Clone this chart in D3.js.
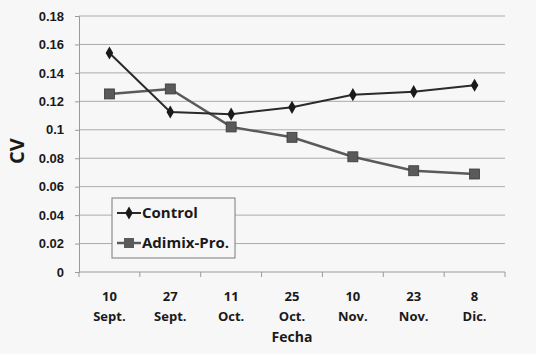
<!DOCTYPE html>
<html>
<head>
<meta charset="utf-8">
<script src="https://cdn.jsdelivr.net/npm/d3@7"></script>
<style>
  body { margin: 0; background: #f7f7f7; }
  svg { display: block; font-family: "Open Sans", "DejaVu Sans", sans-serif; }
</style>
</head>
<body>
<div id="chart"></div>
<script>
// Fechas de muestreo (dos líneas por etiqueta)
const dayLabels = ["10", "27", "11", "25", "10", "23", "8"];
const monthLabels = ["Sept.", "Sept.", "Oct.", "Oct.", "Nov.", "Nov.", "Dic."];
const controlValues = [0.154, 0.1125, 0.111, 0.1158, 0.1247, 0.1268, 0.1313];
const adimixValues = [0.1252, 0.1287, 0.102, 0.0947, 0.081, 0.0712, 0.0689];
const yTicks = [0, 0.02, 0.04, 0.06, 0.08, 0.1, 0.12, 0.14, 0.16, 0.18];

const width = 536, height = 354;
const margin = { top: 16, right: 31, bottom: 82, left: 79 };

const svg = d3.select("#chart").append("svg")
    .attr("width", width)
    .attr("height", height);

svg.append("rect")
    .attr("width", width)
    .attr("height", height)
    .attr("fill", "#f7f7f7");

const x = d3.scaleBand()
    .domain(d3.range(dayLabels.length))
    .range([margin.left, width - margin.right]);

const y = d3.scaleLinear()
    .domain([0, 0.18])
    .range([height - margin.bottom, margin.top]);

// Grid lines
svg.append("g")
    .selectAll("line")
    .data(yTicks.slice(1))
    .join("line")
    .attr("x1", margin.left)
    .attr("x2", width - margin.right)
    .attr("y1", d => y(d))
    .attr("y2", d => y(d))
    .attr("stroke", "#ababab")
    .attr("stroke-width", 1);

// Y axis
const yAxis = svg.append("g")
    .attr("transform", `translate(${margin.left},0)`)
    .call(d3.axisLeft(y).tickValues(yTicks).tickSize(4).tickFormat(d => d === 0 ? "0" : String(+d.toFixed(2))));
yAxis.select(".domain").attr("stroke", "#9a9a9a");
yAxis.selectAll(".tick line").attr("stroke", "#9a9a9a");
yAxis.selectAll(".tick text")
    .attr("x", -15)
    .attr("fill", "#1a1a1a")
    .style("font-size", "13px")
    .style("font-weight", "bold");

// X axis
const xAxis = svg.append("g")
    .attr("transform", `translate(0,${height - margin.bottom})`);
xAxis.append("line")
    .attr("x1", margin.left)
    .attr("x2", width - margin.right)
    .attr("stroke", "#9a9a9a");
xAxis.selectAll(".xtick")
    .data(d3.range(dayLabels.length + 1))
    .join("line")
    .attr("x1", i => margin.left + i * x.bandwidth())
    .attr("x2", i => margin.left + i * x.bandwidth())
    .attr("y1", 0)
    .attr("y2", 5)
    .attr("stroke", "#9a9a9a");

const xLabels = xAxis.selectAll(".xlabel")
    .data(d3.range(dayLabels.length))
    .join("text")
    .attr("text-anchor", "middle")
    .attr("fill", "#1a1a1a")
    .style("font-size", "13px")
    .style("font-weight", "bold");
xLabels.append("tspan")
    .attr("x", i => x(i) + x.bandwidth() / 2)
    .attr("y", 29)
    .text(i => dayLabels[i]);
xLabels.append("tspan")
    .attr("x", i => x(i) + x.bandwidth() / 2)
    .attr("y", 49)
    .text(i => monthLabels[i]);

// Axis titles
svg.append("text")
    .attr("transform", `translate(24,${(margin.top + height - margin.bottom) / 2 + 7}) rotate(-90)`)
    .attr("text-anchor", "middle")
    .attr("fill", "#1a1a1a")
    .style("font-size", "20px")
    .style("font-weight", "bold")
    .text("CV");

svg.append("text")
    .attr("x", (margin.left + width - margin.right) / 2)
    .attr("y", 342)
    .attr("text-anchor", "middle")
    .attr("fill", "#1a1a1a")
    .style("font-size", "14px")
    .style("font-weight", "bold")
    .text("Fecha");

const cx = i => x(i) + x.bandwidth() / 2;

const line = d3.line()
    .x((d, i) => cx(i))
    .y(d => y(d));

// Adimix-Pro. series
svg.append("path")
    .datum(adimixValues)
    .attr("fill", "none")
    .attr("stroke", "#5a5a5a")
    .attr("stroke-width", 2.5)
    .attr("d", line);
svg.append("g")
    .selectAll("rect")
    .data(adimixValues)
    .join("rect")
    .attr("x", (d, i) => cx(i) - 5)
    .attr("y", d => y(d) - 5)
    .attr("width", 10)
    .attr("height", 10)
    .attr("fill", "#5a5a5a")
    .attr("stroke", "#3a3a3a")
    .attr("stroke-width", 0.8);

// Control series
svg.append("path")
    .datum(controlValues)
    .attr("fill", "none")
    .attr("stroke", "#2a2a2a")
    .attr("stroke-width", 2)
    .attr("d", line);
const diamond = d3.symbol().type(d3.symbolDiamond).size(50);
svg.append("g")
    .selectAll("path")
    .data(controlValues)
    .join("path")
    .attr("transform", (d, i) => `translate(${cx(i)},${y(d)})`)
    .attr("d", diamond)
    .attr("fill", "#1a1a1a");

// Legend
const legend = svg.append("g").attr("transform", "translate(112,198)");
legend.append("rect")
    .attr("width", 123)
    .attr("height", 60)
    .attr("fill", "#f7f7f7")
    .attr("stroke", "#7a7a7a");

legend.append("line")
    .attr("x1", 5).attr("x2", 29)
    .attr("y1", 15).attr("y2", 15)
    .attr("stroke", "#2a2a2a").attr("stroke-width", 2);
legend.append("path")
    .attr("transform", "translate(17,15)")
    .attr("d", diamond)
    .attr("fill", "#1a1a1a");
legend.append("text")
    .attr("x", 30).attr("y", 20)
    .attr("fill", "#1a1a1a")
    .style("font-size", "15px")
    .style("font-weight", "bold")
    .text("Control");

legend.append("line")
    .attr("x1", 5).attr("x2", 29)
    .attr("y1", 45).attr("y2", 45)
    .attr("stroke", "#5a5a5a").attr("stroke-width", 2.5);
legend.append("rect")
    .attr("x", 12).attr("y", 40)
    .attr("width", 10).attr("height", 10)
    .attr("fill", "#5a5a5a");
legend.append("text")
    .attr("x", 30).attr("y", 50)
    .attr("fill", "#1a1a1a")
    .style("font-size", "15px")
    .style("font-weight", "bold")
    .text("Adimix-Pro.");
</script>
</body>
</html>
